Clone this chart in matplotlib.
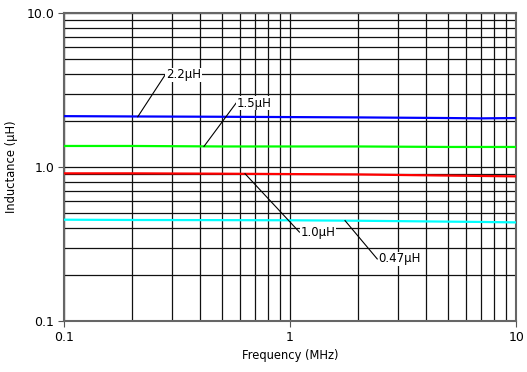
import numpy as np
import matplotlib
matplotlib.use("Agg")
import matplotlib.pyplot as plt
from matplotlib.ticker import FixedLocator, FixedFormatter, LogLocator, NullFormatter

plt.rcParams.update({
    "font.family": "sans-serif",
    "font.sans-serif": ["DejaVu Sans"],
    "font.size": 8,
})

# ── data ──────────────────────────────────────────────────────
freq = [0.1, 0.2, 0.5, 1.0, 2.0, 5.0, 7.0, 10.0]
L_22 = [2.14, 2.13, 2.12, 2.11, 2.10, 2.08, 2.07, 2.08]
L_15 = [1.37, 1.37, 1.36, 1.36, 1.36, 1.35, 1.35, 1.35]
L_10 = [0.91, 0.91, 0.905, 0.90, 0.895, 0.88, 0.875, 0.87]
L_047 = [0.455, 0.453, 0.452, 0.451, 0.448, 0.442, 0.440, 0.437]

series = [
    (L_22, "#0000ff", "2.2μH"),
    (L_15, "#00ff00", "1.5μH"),
    (L_10, "#ff0000", "1.0μH"),
    (L_047, "#00ffff", "0.47μH"),
]
# leader line: (start x, start y) on curve -> (end x, end y) at text
leaders = {
    "2.2μH": ((0.212, 2.12), (0.28, 3.96)),
    "1.5μH": ((0.416, 1.36), (0.577, 2.6)),
    "1.0μH": ((0.632, 0.905), (1.10, 0.378)),
    "0.47μH": ((1.75, 0.449), (2.43, 0.253)),
}

fig = plt.figure(figsize=(5.27, 3.72), dpi=100)
ax = fig.add_axes([0.1214, 0.137, 0.858, 0.828])
ax.set_xscale("log")
ax.set_yscale("log")
ax.set_xlim(0.1, 10)
ax.set_ylim(0.1, 10)

ax.grid(True, which="both", color="#111111", lw=0.9, zorder=0)

for vals, col, name in series:
    ax.plot(freq, vals, color=col, lw=1.6, zorder=3)

for name, (p0, p1) in leaders.items():
    ax.plot([p0[0], p1[0]], [p0[1], p1[1]], color="black", lw=0.8, zorder=4)
    ax.text(p1[0] * 1.01, p1[1], name, fontsize=8.5, ha="left", va="center", zorder=5,
            bbox=dict(facecolor="white", edgecolor="none", pad=0.5))

ax.xaxis.set_major_locator(FixedLocator([0.1, 1, 10]))
ax.xaxis.set_major_formatter(FixedFormatter(["0.1", "1", "10"]))
ax.yaxis.set_major_locator(FixedLocator([0.1, 1, 10]))
ax.yaxis.set_major_formatter(FixedFormatter(["0.1", "1.0", "10.0"]))
ax.xaxis.set_minor_locator(LogLocator(base=10, subs=np.arange(2, 10), numticks=20))
ax.yaxis.set_minor_locator(LogLocator(base=10, subs=np.arange(2, 10), numticks=20))
ax.xaxis.set_minor_formatter(NullFormatter())
ax.yaxis.set_minor_formatter(NullFormatter())
ax.tick_params(which="minor", length=0)
ax.tick_params(which="major", length=4, width=0.8, color="#555555", labelsize=9, pad=3)

for s in ax.spines.values():
    s.set_color("#666666")
    s.set_linewidth(1.5)

ax.set_xlabel("Frequency (MHz)", fontsize=8.3, labelpad=4)
ax.set_ylabel("Inductance (μH)", fontsize=8.3, labelpad=6)

fig.savefig("out.png", dpi=100)
